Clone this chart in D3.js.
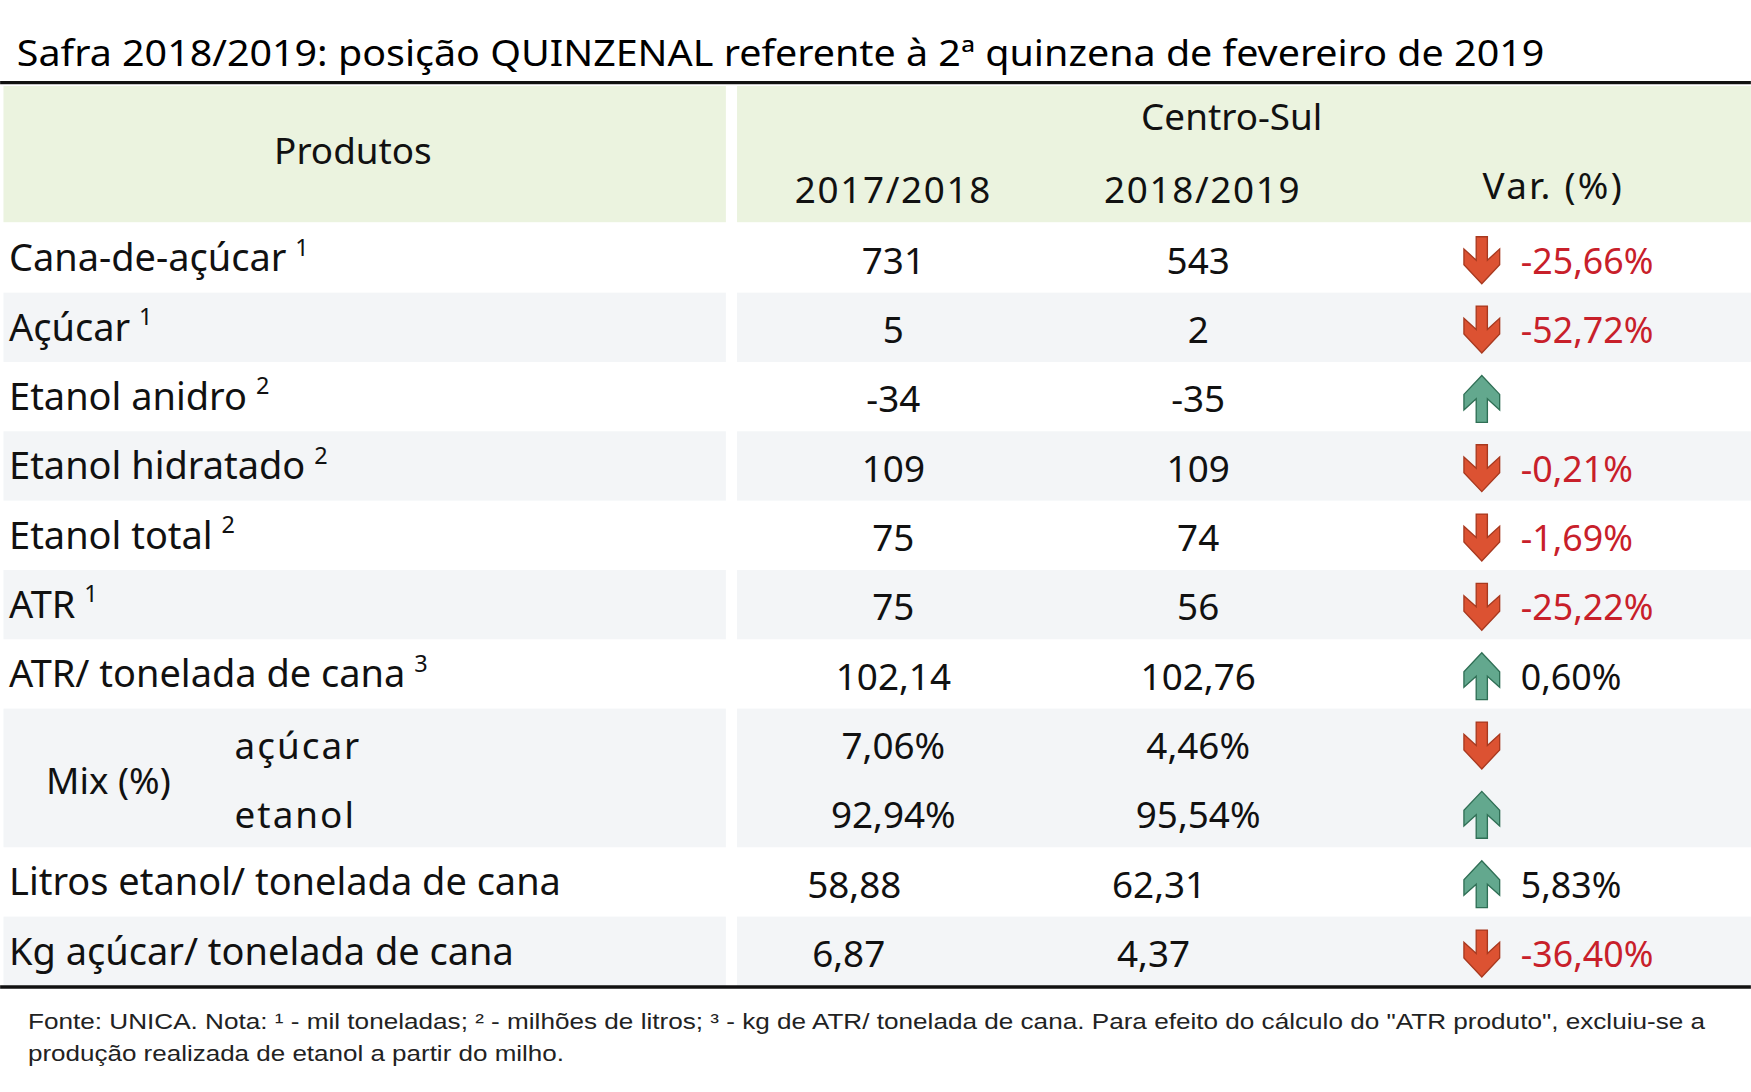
<!DOCTYPE html>
<html><head><meta charset="utf-8">
<script src="https://cdn.jsdelivr.net/npm/d3@7"></script>
<style>body{margin:0;background:#fff}svg{display:block}</style>
</head><body>
<svg id="chart" width="1751" height="1092" viewBox="0 0 1568 978"></svg>
<script>
// Dados ------------------------------------------------------------
const titulo = "Safra 2018/2019: posição QUINZENAL referente à 2ª quinzena de fevereiro de 2019";
const produtos = ["Cana-de-açúcar", "Açúcar", "Etanol anidro", "Etanol hidratado", "Etanol total", "ATR", "ATR/ tonelada de cana", "açúcar", "etanol", "Litros etanol/ tonelada de cana", "Kg açúcar/ tonelada de cana"];
const notas = ["1", "1", "2", "2", "2", "1", "3", "", "", "", ""];
const safra1718 = ["731", "5", "-34", "109", "75", "75", "102,14", "7,06%", "92,94%", "58,88", "6,87"];
const safra1819 = ["543", "2", "-35", "109", "74", "56", "102,76", "4,46%", "95,54%", "62,31", "4,37"];
const direcao = ["down", "down", "up", "down", "down", "down", "up", "down", "up", "up", "down"];
const variacao = ["-25,66%", "-52,72%", "", "-0,21%", "-1,69%", "-25,22%", "0,60%", "", "", "5,83%", "-36,40%"];
const fonte = ["Fonte: UNICA. Nota: ¹ - mil toneladas; ² - milhões de litros; ³ - kg de ATR/ tonelada de cana. Para efeito do cálculo do \"ATR produto\", excluiu-se a",
  "produção realizada de etanol a partir do milho."];

const svg = d3.select("#chart");
const font = "'Noto Sans', sans-serif";

// Escala vertical das linhas
const y = d3.scaleBand().domain(d3.range(produtos.length)).range([200, 883]);
const faixas = [1, 3, 5, 7, 8, 10]; // linhas com fundo cinza

// Cabeçalho
svg.append("rect").attr("x", 3).attr("y", 77).attr("width", 647).attr("height", 122).attr("fill", "#ebf3df");
svg.append("rect").attr("x", 660).attr("y", 77).attr("width", 908).attr("height", 122).attr("fill", "#ebf3df");
faixas.forEach(i => {
  svg.append("rect").attr("x", 3).attr("y", y(i)).attr("width", 647).attr("height", y.bandwidth()).attr("fill", "#f3f5f7");
  svg.append("rect").attr("x", 660).attr("y", y(i)).attr("width", 908).attr("height", y.bandwidth()).attr("fill", "#f3f5f7");
});

svg.append("text").attr("x", 15).attr("y", 59).attr("font-family", font).attr("font-size", 32)
  .attr("textLength", 1368).attr("lengthAdjust", "spacingAndGlyphs").text(titulo);
svg.append("line").attr("x1", 0).attr("x2", 1568).attr("y1", 74).attr("y2", 74).attr("stroke", "#111").attr("stroke-width", 3);
svg.append("line").attr("x1", 0).attr("x2", 1568).attr("y1", 884).attr("y2", 884).attr("stroke", "#111").attr("stroke-width", 3);

const txt = (x, yy, s, anchor, size, fill) => svg.append("text").attr("x", x).attr("y", yy)
  .attr("font-family", font).attr("font-size", size || 33).attr("text-anchor", anchor || "start")
  .attr("fill", fill || "#111").text(s);

txt(316, 147, "Produtos", "middle");
txt(1103, 116, "Centro-Sul", "middle");
txt(800, 182, "2017/2018", "middle").attr("letter-spacing", 1.5);
txt(1077, 182, "2018/2019", "middle").attr("letter-spacing", 1.5);
txt(1391, 178, "Var. (%)", "middle").attr("letter-spacing", 2);

const col1 = 800, col2 = 1073;
const desloc = {9: -35, 10: -40};
produtos.forEach((p, i) => {
  const base = y(i) + y.bandwidth() / 2 + 12;
  if (i === 7 || i === 8) {
    txt(210, base + 2, p).attr("letter-spacing", 1.8);
  } else {
    const t = txt(8, base, p).attr("font-size", 34);
    if (notas[i]) t.append("tspan").attr("dx", 8).attr("dy", -14).attr("font-size", 21).text(notas[i]);
  }
  const dx = desloc[i] || 0;
  txt(col1 + dx, base + 2, safra1718[i], "middle");
  txt(col2 + dx, base + 2, safra1819[i], "middle");
  // Seta
  const cy = y(i) + y.bandwidth() / 2 + 2;
  const seta = "M-5,-21 L5,-21 L5,0 L16,-10 L16,4 L0,21 L-16,4 L-16,-10 L-5,0 Z";
  const up = direcao[i] === "up";
  svg.append("path").attr("d", seta)
    .attr("transform", `translate(1327,${cy}) scale(1,${up ? -1 : 1})`)
    .attr("fill", up ? "#63a88e" : "#dc5232").attr("stroke", up ? "#2f6f55" : "#a8391f").attr("stroke-width", 1.2);
  if (variacao[i]) txt(1362, base + 2, variacao[i], "start", 32, variacao[i].startsWith("-") ? "#c8202a" : "#111");
});
txt(97, 711, "Mix (%)", "middle");

fonte.forEach((l, i) => {
  svg.append("text").attr("x", 25).attr("y", 922 + i * 28).attr("font-family", "'Liberation Sans Narrow', 'Liberation Sans', Arial")
    .attr("font-size", 20).attr("fill", "#222")
    .attr("textLength", i === 0 ? 1502 : 480).attr("lengthAdjust", "spacingAndGlyphs").text(l);
});
</script>
</body></html>
